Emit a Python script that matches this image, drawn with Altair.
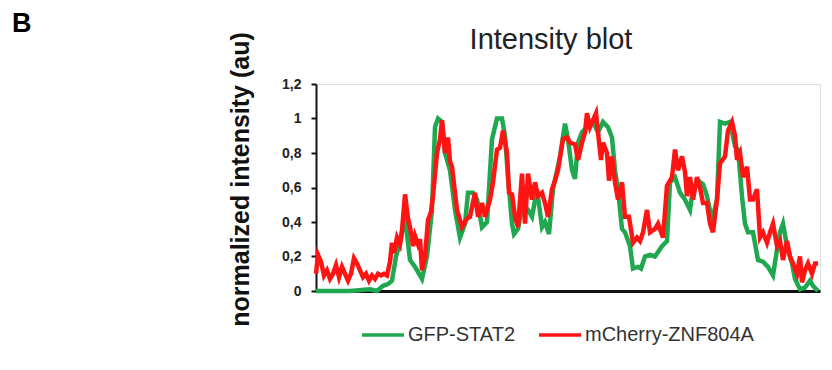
import altair as alt
import pandas as pd

series_names = ["GFP-STAT2", "mCherry-ZNF804A"]
series_colors = ["#1fa84f", "#ff1414"]

gfp_pos = [0, 14, 34, 54, 61, 67, 72, 76, 80, 84, 89, 94, 99, 106, 111, 116, 119, 122, 126, 129,
           134, 139, 144, 149, 152, 157, 161, 166, 171, 176, 181, 186, 189, 192, 196, 198, 202, 207,
           212, 216, 221, 226, 229, 233, 237, 244, 249, 252, 256, 259, 262, 266, 271, 277, 282, 287,
           292, 296, 299, 302, 306, 309, 314, 317, 322, 325, 329, 334, 339, 346, 351, 354, 359, 364,
           369, 374, 377, 382, 387, 391, 396, 401, 404, 409, 414, 419, 422, 426, 429, 432, 437, 442,
           447, 452, 457, 461, 464, 467, 471, 476, 479, 484, 489, 494, 497, 502]
gfp_val = [0, 0, 0, 0.01, 0.0, 0.03, 0.04, 0.06, 0.2, 0.28, 0.43, 0.18, 0.14, 0.07, 0.2, 0.47, 0.95, 1.0, 0.98, 0.8,
           0.7, 0.47, 0.31, 0.39, 0.57, 0.57, 0.53, 0.37, 0.4, 0.88, 1.0, 1.0, 0.9, 0.66, 0.39, 0.33, 0.36, 0.51,
           0.47, 0.43, 0.59, 0.37, 0.4, 0.33, 0.59, 0.78, 0.97, 0.88, 0.7, 0.65, 0.86, 0.92, 0.95, 0.98, 0.92, 0.98,
           0.95, 0.89, 0.7, 0.59, 0.36, 0.34, 0.26, 0.13, 0.14, 0.13, 0.2, 0.21, 0.2, 0.26, 0.29, 0.63, 0.66, 0.57,
           0.53, 0.47, 0.59, 0.64, 0.62, 0.55, 0.41, 0.53, 0.98, 0.97, 0.98, 0.84, 0.82, 0.55, 0.39, 0.34, 0.34, 0.18,
           0.17, 0.14, 0.09, 0.24, 0.34, 0.39, 0.26, 0.16, 0.07, 0.01, 0.02, 0.06, 0.03, 0.0]

mch_pos = [0, 2, 5, 8, 11, 14, 17, 20, 23, 26, 29, 32, 35, 38, 41, 44, 47, 50, 53, 56, 59, 62, 65, 68, 71, 74,
           76, 78, 81, 84, 86, 89, 92, 94, 97, 99, 102, 104, 106, 109, 112, 115, 117, 121, 124, 126, 129, 132,
           134, 136, 138, 141, 146, 151, 154, 159, 162, 166, 169, 174, 177, 181, 184, 187, 191, 193, 196, 199,
           202, 206, 209, 212, 216, 219, 222, 226, 229, 232, 236, 239, 242, 247, 251, 254, 259, 262, 266, 269,
           271, 274, 277, 280, 282, 285, 287, 291, 293, 296, 299, 302, 306, 309, 313, 317, 321, 324, 327, 331,
           334, 339, 342, 347, 351, 356, 359, 362, 366, 369, 371, 374, 377, 381, 384, 387, 391, 394, 397, 401,
           404, 409, 412, 416, 419, 421, 424, 427, 431, 434, 437, 441, 444, 447, 451, 454, 457, 461, 464, 467,
           471, 474, 477, 481, 484, 486, 489, 492, 496, 499, 502]
mch_val = [0.1, 0.21, 0.17, 0.09, 0.12, 0.07, 0.1, 0.15, 0.08, 0.14, 0.1, 0.06, 0.1, 0.19, 0.16, 0.12, 0.08, 0.1,
           0.06, 0.09, 0.07, 0.1, 0.09, 0.1, 0.09, 0.17, 0.28, 0.22, 0.31, 0.27, 0.35, 0.56, 0.42, 0.37, 0.26, 0.32,
           0.27, 0.3, 0.12, 0.2, 0.41, 0.46, 0.55, 0.8, 0.88, 0.99, 0.8, 0.89, 0.75, 0.72, 0.62, 0.47, 0.37, 0.42,
           0.43, 0.57, 0.43, 0.51, 0.43, 0.53, 0.63, 0.82, 0.83, 0.93, 0.8, 0.57, 0.56, 0.43, 0.37, 0.68, 0.39, 0.68,
           0.53, 0.63, 0.55, 0.57, 0.51, 0.43, 0.59, 0.64, 0.7, 0.88, 0.89, 0.86, 0.85, 0.76, 0.86, 0.92, 1.03, 0.95,
           0.99, 1.03, 0.92, 0.76, 0.86, 0.8, 0.64, 0.78, 0.63, 0.53, 0.63, 0.43, 0.43, 0.28, 0.31, 0.29, 0.34, 0.47,
           0.34, 0.36, 0.39, 0.31, 0.61, 0.66, 0.82, 0.7, 0.78, 0.69, 0.55, 0.66, 0.53, 0.66, 0.6, 0.51, 0.51, 0.39,
           0.34, 0.53, 0.74, 0.78, 0.93, 0.98, 0.9, 0.76, 0.8, 0.66, 0.72, 0.53, 0.53, 0.59, 0.31, 0.34, 0.28, 0.34,
           0.39, 0.26, 0.29, 0.18, 0.29, 0.2, 0.16, 0.1, 0.2, 0.05, 0.12, 0.16, 0.1, 0.16, 0.16]

y_ticks = [0, 0.2, 0.4, 0.6, 0.8, 1, 1.2]
chart_title = "Intensity blot"
panel_letter = "B"

df = pd.concat([
    pd.DataFrame({"pos": gfp_pos, "val": gfp_val, "series": series_names[0], "ord": range(len(gfp_pos))}),
    pd.DataFrame({"pos": mch_pos, "val": mch_val, "series": series_names[1], "ord": range(len(mch_pos))}),
])

FONT = "Liberation Sans"

color = alt.Color(
    "series:N",
    scale=alt.Scale(domain=series_names, range=series_colors),
    legend=alt.Legend(
        title=None, orient="none", direction="horizontal",
        legendX=44, legendY=228,
        symbolType="stroke", symbolSize=1764, symbolStrokeWidth=3.5,
        labelFont=FONT, labelFontSize=20, labelColor="#333333",
        labelOffset=2, columnPadding=16, labelLimit=400,
    ),
)

x = alt.X("pos:Q", scale=alt.Scale(domain=[0, 504], nice=False, zero=False),
          axis=alt.Axis(title=None, labels=False, ticks=False, grid=False,
                        domainColor="#111111", domainWidth=3))
y = alt.Y("val:Q", scale=alt.Scale(domain=[0, 1.2], nice=False),
          axis=alt.Axis(title="normalized intensity (au)", values=y_ticks, grid=False,
                        labelExpr="replace(format(datum.value, '.1~f'), '.', ',')",
                        labelFont=FONT, labelFontSize=14, labelFontWeight="bold", labelColor="#222222",
                        labelPadding=10, tickSize=5, tickWidth=2, tickColor="#111111",
                        domainColor="#111111", domainWidth=2,
                        titleFont=FONT, titleFontSize=25, titleFontWeight="bold", titleColor="#111111",
                        titleAngle=-90, titleX=-76, titleY=95, titleAlign="center", titleBaseline="middle",
                        titleLimit=400))

base = alt.Chart(df)
green = base.transform_filter(alt.datum.series == series_names[0]).mark_line(strokeWidth=4.5).encode(
    x=x, y=y, color=color, order="ord:Q")
red = base.transform_filter(alt.datum.series == series_names[1]).mark_line(strokeWidth=4.5).encode(
    x=x, y=y, color=color, order="ord:Q")

panel = alt.Chart(pd.DataFrame({"t": [panel_letter]})).mark_text(
    font=FONT, fontSize=27, fontWeight="bold", color="#000000", align="left", baseline="alphabetic"
).encode(text="t:N", x=alt.value(-304), y=alt.value(-52))

title_text = alt.Chart(pd.DataFrame({"t": [chart_title]})).mark_text(
    font=FONT, fontSize=29, fontWeight="normal", color="#222222", align="center", baseline="alphabetic"
).encode(text="t:N", x=alt.value(235), y=alt.value(-35))

chart = alt.layer(green, red, panel, title_text).properties(
    width=504, height=207,
    padding={"left": 308, "top": 76, "right": 4, "bottom": 70},
    autosize=alt.AutoSizeParams(type="none"),
).configure_view(stroke=None).configure(background="white")

chart.save("out.html", embed_options={"renderer": "svg", "actions": False})
